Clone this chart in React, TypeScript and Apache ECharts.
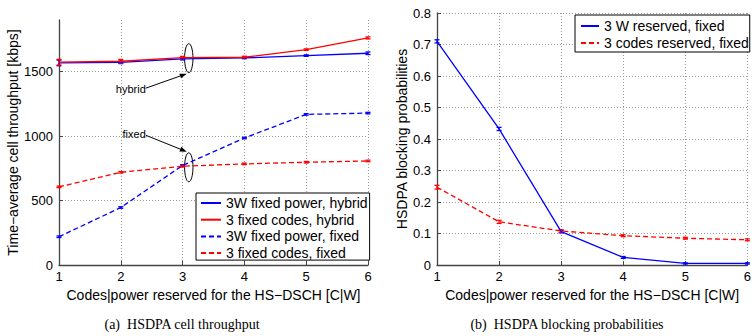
import React, { useEffect, useRef } from "react";
import * as echarts from "echarts";

const X = [1, 2, 3, 4, 5, 6];
const xTicks = ["1", "2", "3", "4", "5", "6"];

// (a) throughput [kbps]
const thrPowerHybrid = [1567, 1572, 1598, 1606, 1624, 1642];
const thrCodesHybrid = [1573, 1580, 1608, 1611, 1670, 1761];
const thrPowerFixed = [219, 446, 772, 985, 1168, 1178];
const thrCodesFixed = [606, 719, 766, 784, 797, 807];
const errPowerHybrid = [22, 10, 8, 6, 6, 10];
const errCodesHybrid = [22, 14, 10, 8, 6, 8];
const errPowerFixed = [6, 6, 6, 6, 6, 6];
const errCodesFixed = [6, 6, 6, 6, 6, 6];

// (b) blocking probabilities
const blkPowerFixed = [0.71, 0.432, 0.106, 0.024, 0.005, 0.005];
const blkCodesFixed = [0.247, 0.137, 0.108, 0.093, 0.085, 0.08];
const errBlkPower = [0.005, 0.005, 0.004, 0.003, 0.002, 0.002];
const errBlkCodes = [0.006, 0.005, 0.004, 0.003, 0.003, 0.003];

const names = {
  a1: "3W fixed power, hybrid",
  a2: "3 fixed codes, hybrid",
  a3: "3W fixed power, fixed",
  a4: "3 fixed codes, fixed",
  b1: "3 W reserved, fixed",
  b2: "3 codes reserved, fixed",
};

const captions = ["(a)  HSDPA cell throughput", "(b)  HSDPA blocking probabilities"];

const FONT = "Liberation Sans, Arial, Helvetica, sans-serif";
const BLUE = "#0000ff";
const RED = "#ff0000";

function pairs(vals: number[]) {
  return X.map((x, i) => [x, vals[i]]);
}
function triples(vals: number[], errs: number[]) {
  return X.map((x, i) => [x, vals[i], errs[i]]);
}

function lineSeries(name: string, vals: number[], color: string, dashed: boolean, idx: number) {
  return {
    name,
    type: "line",
    xAxisIndex: idx,
    yAxisIndex: idx,
    data: pairs(vals),
    symbol: "none",
    lineStyle: { color, width: 1.3, type: dashed ? [5, 3] : "solid" },
    itemStyle: { color },
  };
}

function errSeries(vals: number[], errs: number[], color: string, idx: number) {
  return {
    type: "custom",
    xAxisIndex: idx,
    yAxisIndex: idx,
    data: triples(vals, errs),
    encode: { x: 0, y: 1 },
    renderItem: (params: any, api: any) => {
      const x = api.value(0);
      const y = api.value(1);
      const e = api.value(2);
      const top = api.coord([x, y + e]);
      const bot = api.coord([x, y - e]);
      const hw = 2.5;
      const st = { stroke: color, lineWidth: 1.3 };
      return {
        type: "group",
        children: [
          { type: "line", shape: { x1: top[0], y1: top[1], x2: bot[0], y2: bot[1] }, style: st },
          { type: "line", shape: { x1: top[0] - hw, y1: top[1], x2: top[0] + hw, y2: top[1] }, style: st },
          { type: "line", shape: { x1: bot[0] - hw, y1: bot[1], x2: bot[0] + hw, y2: bot[1] }, style: st },
        ],
      };
    },
  };
}

const axisCommon = {
  axisLine: { show: true, onZero: false, lineStyle: { color: "#444", width: 1.3 } },
  axisTick: { show: true, inside: true, length: 4, lineStyle: { color: "#444" } },
  axisLabel: { color: "#000", fontFamily: FONT, fontSize: 13 },
  splitLine: { show: true, lineStyle: { color: "#9a9a9a", type: [1, 2], width: 1 } },
  nameTextStyle: { color: "#000", fontFamily: FONT, fontSize: 14 },
};

const legendCommon = {
  orient: "vertical",
  itemHeight: 14,
  borderColor: "#000",
  borderWidth: 1,
  backgroundColor: "#fff",
  borderRadius: 0,
  itemStyle: { opacity: 0 },
  textStyle: { color: "#000", fontFamily: FONT, fontSize: 14 },
};

function arrow(x1: number, y1: number, x2: number, y2: number) {
  const ang = Math.atan2(y2 - y1, x2 - x1);
  const L = 7;
  const W = 2.5;
  const bx = x2 - L * Math.cos(ang);
  const by = y2 - L * Math.sin(ang);
  const nx = -Math.sin(ang);
  const ny = Math.cos(ang);
  return [
    { type: "line", shape: { x1, y1, x2: bx, y2: by }, style: { stroke: "#000", lineWidth: 1 } },
    {
      type: "polygon",
      shape: { points: [[x2, y2], [bx + nx * W, by + ny * W], [bx - nx * W, by - ny * W]] },
      style: { fill: "#000" },
    },
  ];
}

export default function App() {
  const ref = useRef<HTMLDivElement>(null);
  useEffect(() => {
    if (!ref.current) return;
    const chart = echarts.init(ref.current, undefined, { renderer: "svg" });
    const xAxisFor = (gi: number) => ({
      ...axisCommon,
      gridIndex: gi,
      type: "value",
      min: 1,
      max: 6,
      interval: 1,
      name: "Codes|power reserved for the HS\u2212DSCH [C|W]",
      nameLocation: "middle",
      nameGap: 18,
      axisLabel: { ...axisCommon.axisLabel, margin: 5, formatter: (v: number) => xTicks[v - 1] ?? "" },
    });
    const option: any = {
      animation: false,
      backgroundColor: "#fff",
      grid: [
        { left: 59, top: 20, width: 309, height: 245 },
        { left: 437, top: 13, width: 316, height: 252 },
      ],
      xAxis: [xAxisFor(0), xAxisFor(1)],
      yAxis: [
        {
          ...axisCommon,
          gridIndex: 0,
          type: "value",
          min: 0,
          max: 1900,
          interval: 500,
          name: "Time\u2212average cell throughput [kbps]",
          nameLocation: "middle",
          nameGap: 38,
          axisLabel: { ...axisCommon.axisLabel, margin: 6, showMaxLabel: false, formatter: (v: number) => String(v) },
          splitLine: { ...axisCommon.splitLine, showMaxLine: false },
        },
        {
          ...axisCommon,
          gridIndex: 1,
          type: "value",
          min: 0,
          max: 0.8,
          interval: 0.1,
          name: "HSDPA blocking probabilities",
          nameLocation: "middle",
          nameGap: 27,
          axisLabel: { ...axisCommon.axisLabel, margin: 6, formatter: (v: number) => String(Math.round(v * 10) / 10) },
        },
      ],
      legend: [
        {
          ...legendCommon,
          data: [names.a1, names.a2, names.a3, names.a4],
          left: 196,
          top: 193,
          itemWidth: 20,
          itemGap: 2.7,
          padding: [3, 2, 0, 4],
        },
        {
          ...legendCommon,
          data: [names.b1, names.b2],
          left: 575,
          top: 15,
          itemWidth: 18,
          itemGap: 3,
          padding: [4, 1, 2, 5],
        },
      ],
      series: [
        lineSeries(names.a1, thrPowerHybrid, BLUE, false, 0),
        errSeries(thrPowerHybrid, errPowerHybrid, BLUE, 0),
        lineSeries(names.a2, thrCodesHybrid, RED, false, 0),
        errSeries(thrCodesHybrid, errCodesHybrid, RED, 0),
        lineSeries(names.a3, thrPowerFixed, BLUE, true, 0),
        errSeries(thrPowerFixed, errPowerFixed, BLUE, 0),
        lineSeries(names.a4, thrCodesFixed, RED, true, 0),
        errSeries(thrCodesFixed, errCodesFixed, RED, 0),
        lineSeries(names.b1, blkPowerFixed, BLUE, false, 1),
        errSeries(blkPowerFixed, errBlkPower, BLUE, 1),
        lineSeries(names.b2, blkCodesFixed, RED, true, 1),
        errSeries(blkCodesFixed, errBlkCodes, RED, 1),
      ],
    };
    chart.setOption(option);

    const eH = chart.convertToPixel({ gridIndex: 0 }, [3.1, 1604]) as number[];
    const eF = chart.convertToPixel({ gridIndex: 0 }, [3.1, 758]) as number[];
    const ry = 14.5;
    const rx = 4.2;
    const serifFamily = '"Liberation Serif", "Times New Roman", serif';
    const graphic: any[] = [
      { type: "ellipse", shape: { cx: eH[0], cy: eH[1], rx, ry }, style: { fill: "none", stroke: "#000", lineWidth: 1 } },
      { type: "ellipse", shape: { cx: eF[0], cy: eF[1], rx, ry }, style: { fill: "none", stroke: "#000", lineWidth: 1 } },
      {
        type: "text",
        x: eH[0] - 43,
        y: eH[1] + 31,
        style: { text: "hybrid", fill: "#000", fontFamily: FONT, fontSize: 11, align: "right", verticalAlign: "middle" },
      },
      {
        type: "text",
        x: eF[0] - 43,
        y: eF[1] - 33,
        style: { text: "fixed", fill: "#000", fontFamily: FONT, fontSize: 11, align: "right", verticalAlign: "middle" },
      },
      ...arrow(eH[0] - 43, eH[1] + 30, eH[0] - 2, eH[1] + ry + 1),
      ...arrow(eF[0] - 43, eF[1] - 32, eF[0] - 2, eF[1] - ry - 1),
      {
        type: "text",
        x: 182,
        y: 324,
        style: { text: captions[0], fill: "#000", fontFamily: serifFamily, fontSize: 14, align: "center", verticalAlign: "middle" },
      },
      {
        type: "text",
        x: 567,
        y: 324,
        style: { text: captions[1], fill: "#000", fontFamily: serifFamily, fontSize: 14, align: "center", verticalAlign: "middle" },
      },
    ];
    chart.setOption({ graphic });

    return () => chart.dispose();
  }, []);

  return (
    <div
      ref={ref}
      style={{ position: "fixed", left: 0, top: 0, width: 754, height: 336, background: "#fff" }}
    />
  );
}
